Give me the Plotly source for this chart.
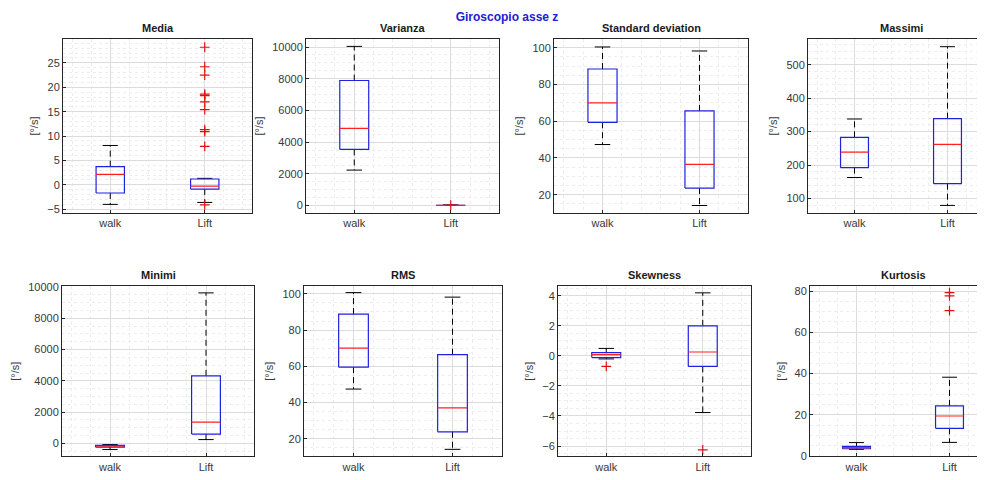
import plotly.graph_objects as go

# ---------------- data ----------------
categories = ["walk", "Lift"]
panel_titles = ["Media", "Varianza", "Standard deviation", "Massimi",
                "Minimi", "RMS", "Skewness", "Kurtosis"]
unit_label = "[°/s]"
main_title = "Giroscopio asse z"

# each list: [lower whisker, Q1, median, Q3, upper whisker]
media_walk = [-4.0, -1.67, 2.13, 3.73, 8.07]
media_lift = [-3.6, -0.87, -0.27, 1.2, 1.33]
media_walk_out = []
media_lift_out = [28.2, 24.2, 22.5, 18.6, 18.3, 17.0, 15.4, 11.3, 10.9, 7.9, -4.1]

varianza_walk = [2236, 3540, 4865, 7888, 10041]
varianza_lift = [2, 8, 15, 25, 45]
varianza_walk_out = []
varianza_lift_out = [30]

std_walk = [47.3, 59.4, 70.0, 88.4, 100.4]
std_lift = [14.1, 23.6, 36.5, 65.6, 98.2]
std_walk_out = []
std_lift_out = []

massimi_walk = [162.9, 192.4, 238.6, 282.8, 337.8]
massimi_lift = [79.4, 144.3, 262.2, 338.8, 554.0]
massimi_walk_out = []
massimi_lift_out = []

minimi_walk = [-390, -240, -180, -120, -70]
minimi_lift = [248, 600, 1366, 4327, 9627]
minimi_walk_out = []
minimi_lift_out = []

rms_walk = [47.4, 59.5, 70.0, 88.8, 100.7]
rms_lift = [14.1, 23.8, 37.0, 66.4, 98.2]
rms_walk_out = []
rms_lift_out = []

skew_walk = [-0.2, -0.11, 0.09, 0.22, 0.5]
skew_lift = [-3.77, -0.70, 0.26, 2.0, 4.2]
skew_walk_out = [-0.70]
skew_lift_out = [-6.25]

kurt_walk = [3.2, 3.5, 4.1, 4.7, 6.5]
kurt_lift = [6.6, 13.4, 19.4, 24.3, 38.2]
kurt_walk_out = []
kurt_lift_out = [79.2, 77.7, 70.5]

panels = [
    (media_walk, media_lift, media_walk_out, media_lift_out),
    (varianza_walk, varianza_lift, varianza_walk_out, varianza_lift_out),
    (std_walk, std_lift, std_walk_out, std_lift_out),
    (massimi_walk, massimi_lift, massimi_walk_out, massimi_lift_out),
    (minimi_walk, minimi_lift, minimi_walk_out, minimi_lift_out),
    (rms_walk, rms_lift, rms_walk_out, rms_lift_out),
    (skew_walk, skew_lift, skew_walk_out, skew_lift_out),
    (kurt_walk, kurt_lift, kurt_walk_out, kurt_lift_out),
]

# ---------------- layout / style ----------------
OFF = 8                      # page body margin in the browser
SW, SH = 985, 480            # screenshot size
W, H = SW - OFF, SH - OFF    # figure size
col_px = [
    [(63, 252), (306, 499), (554, 748), (808, 994)],
    [(62, 254), (304, 502), (558, 751), (810, 996)],
]
row_px = [(35, 212), (287, 461)]
y_ranges = [[-5.7, 29.8], [-450, 10480], [10.2, 104.5], [57.7, 575.7],
            [-828, 10062], [10.2, 104.3], [-6.69, 4.65], [-0.2, 82.4]]
y_dtick = [5, 2000, 20, 100, 2000, 20, 2, 20]
y_minor = [1, 500, 5, 20, 500, 5, 0.5, 5]

BOX_HALF = 0.15
CAP_HALF = 0.08
FONT = "Liberation Sans, Arial, Helvetica, sans-serif"
AX = "#262626"
TICKC = "#383838"


def fx(px):
    return (px - OFF) / W


def fy(px):
    return 1 - (px - OFF) / H


fig = go.Figure()
layout = {}

for i, (walk, lift, walk_out, lift_out) in enumerate(panels):
    r, c = divmod(i, 4)
    x0p, x1p = col_px[r][c]
    y0p, y1p = row_px[r]
    clip = x1p > SW
    right_px = min(x1p, SW)
    xr_end = 0.5 + 2.0 * (right_px - x0p) / (x1p - x0p)
    n = i + 1
    xa = "x" if n == 1 else f"x{n}"
    ya = "y" if n == 1 else f"y{n}"
    xkey = "xaxis" if n == 1 else f"xaxis{n}"
    ykey = "yaxis" if n == 1 else f"yaxis{n}"

    layout[xkey] = dict(
        domain=[fx(x0p), min(1.0, fx(right_px))], anchor=ya, range=[0.5, xr_end],
        tickmode="array", tickvals=[1, 2], ticktext=categories,
        showgrid=True, gridcolor="#dcdcdc", gridwidth=1, zeroline=False,
        showline=True, linecolor=AX, linewidth=1, mirror=True,
        ticks="inside", ticklen=3, tickcolor=AX,
        tickfont=dict(family=FONT, size=11, color=TICKC),
        minor=dict(tick0=0, dtick=0.2, showgrid=True, gridcolor="#ededed",
                   griddash="dot", gridwidth=1),
    )
    layout[ykey] = dict(
        domain=[fy(y1p), fy(y0p)], anchor=xa, range=y_ranges[i],
        dtick=y_dtick[i], tick0=0, tickformat="d",
        showgrid=True, gridcolor="#dcdcdc", gridwidth=1, zeroline=False,
        showline=True, linecolor=AX, linewidth=1,
        mirror=(False if clip else True),
        ticks="inside", ticklen=3, tickcolor=AX,
        tickfont=dict(family=FONT, size=11, color=TICKC),
        title=dict(text=unit_label, font=dict(family=FONT, size=11, color=TICKC),
                   standoff=6),
        minor=dict(dtick=y_minor[i], showgrid=True, gridcolor="#ededed",
                   griddash="dot", gridwidth=1),
    )

    for pos, st, outs in ((1, walk, walk_out), (2, lift, lift_out)):
        lo, q1, med, q3, hi = st
        # whiskers (dashed black)
        fig.add_trace(go.Scatter(
            x=[pos, pos, None, pos, pos], y=[q3, hi, None, q1, lo],
            mode="lines", line=dict(color="black", width=1, dash="6px,4px"),
            xaxis=xa, yaxis=ya, showlegend=False, hoverinfo="skip"))
        # caps
        fig.add_trace(go.Scatter(
            x=[pos - CAP_HALF, pos + CAP_HALF, None, pos - CAP_HALF, pos + CAP_HALF],
            y=[hi, hi, None, lo, lo],
            mode="lines", line=dict(color="black", width=1),
            xaxis=xa, yaxis=ya, showlegend=False, hoverinfo="skip"))
        # box
        fig.add_trace(go.Scatter(
            x=[pos - BOX_HALF, pos + BOX_HALF, pos + BOX_HALF, pos - BOX_HALF, pos - BOX_HALF],
            y=[q1, q1, q3, q3, q1],
            mode="lines", line=dict(color="#2020e0", width=1.2),
            xaxis=xa, yaxis=ya, showlegend=False, hoverinfo="skip"))
        # median
        fig.add_trace(go.Scatter(
            x=[pos - BOX_HALF, pos + BOX_HALF], y=[med, med],
            mode="lines", line=dict(color="#ff2020", width=1.2),
            xaxis=xa, yaxis=ya, showlegend=False, hoverinfo="skip"))
        # outliers
        if outs:
            fig.add_trace(go.Scatter(
                x=[pos] * len(outs), y=outs, mode="markers",
                marker=dict(symbol="cross-thin", size=7,
                            line=dict(color="#e01010", width=1.2)),
                xaxis=xa, yaxis=ya, showlegend=False, hoverinfo="skip"))

    # subplot title
    fig.add_annotation(
        text=f"<b>{panel_titles[i]}</b>", xref="paper", yref="paper",
        x=fx((x0p + x1p) / 2), y=fy(y0p - 3), xanchor="center", yanchor="bottom",
        showarrow=False, font=dict(family=FONT, size=11, color="#1a1a1a"))

fig.update_layout(
    width=W, height=H, margin=dict(l=0, r=0, t=0, b=0),
    paper_bgcolor="white", plot_bgcolor="white",
    title=dict(text=f"<b>{main_title}</b>", x=fx(507), y=fy(17),
               xanchor="center", yanchor="middle",
               font=dict(family=FONT, size=12, color="#2020d0")),
    **layout,
)

fig.write_html("out.html")
